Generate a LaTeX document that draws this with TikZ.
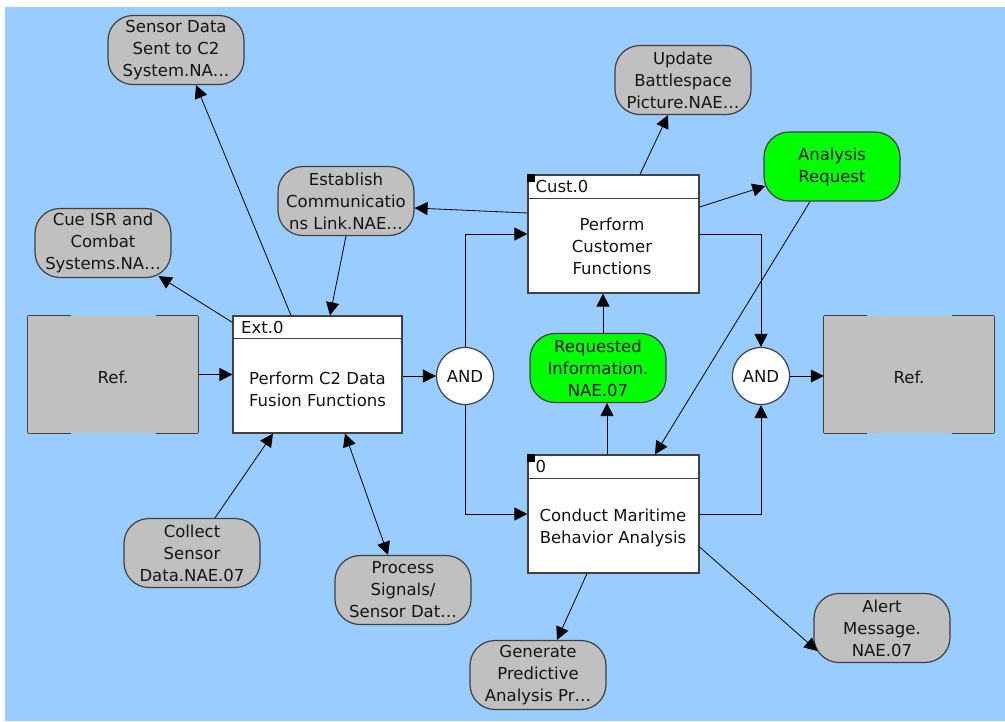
\documentclass[tikz,border=0pt]{standalone}
\usepackage{fontspec}
\setmainfont{DejaVu Sans}
\usetikzlibrary{arrows.meta,calc}
\definecolor{bgblue}{HTML}{99CCFF}
\definecolor{boxgray}{HTML}{C0C0C0}
\definecolor{edgegray}{HTML}{404040}
\definecolor{brightgreen}{HTML}{00FF00}
\definecolor{txt}{HTML}{141414}
\tikzset{
  every node/.style={font=\fontsize{16.5}{22}\selectfont, text=txt},
  pill/.style={draw=edgegray, line width=1.2pt, fill=boxgray, rounded corners=25pt,
    minimum width=136pt, minimum height=69pt, align=center, inner sep=0pt},
  greenpill/.style={pill, fill=brightgreen},
  funcbox/.style={draw=edgegray, line width=1.2pt, fill=white, minimum width=170pt,
    minimum height=118pt, inner sep=0pt},
  refbox/.style={fill=boxgray, minimum width=170pt, minimum height=117pt, inner sep=0pt},
  andnode/.style={circle, draw=edgegray, line width=1.2pt, fill=white, minimum size=57pt, inner sep=0pt},
  conn/.style={draw=black, line width=0.8pt, -{Triangle[length=13pt,width=13pt]}},
  biconn/.style={draw=black, line width=0.8pt, {Triangle[length=13pt,width=13pt]}-{Triangle[length=13pt,width=13pt]}},
  hdr/.style={anchor=west, inner sep=0pt},
  body/.style={align=center, inner sep=0pt},
  refedge/.style={draw=edgegray, line width=1.3pt},
}
\begin{document}
\begin{tikzpicture}[x=1pt,y=-1pt]
\useasboundingbox (0,0) rectangle (1005,721);
\fill[bgblue] (5,7) rectangle (1005,721);

% Ref boxes
\node[refbox] (refL) at (113,374.5) {};
\node[refbox] (refR) at (909,374.5) {};
\foreach \r in {refL,refR}{
  \draw[refedge] (\r.north west) -- (\r.south west);
  \draw[refedge] (\r.north east) -- (\r.south east);
  \draw[refedge] (\r.north west) -- ++(43,0);
  \draw[refedge] (\r.north east) -- ++(-42,0);
  \draw[refedge] (\r.south west) -- ++(43,0);
  \draw[refedge] (\r.south east) -- ++(-42,0);
}
\node[body] (refLt) at (113,377) {Ref.};
\node[body] (refRt) at (909,377) {Ref.};

% Function boxes
\node[funcbox, minimum width=169pt, minimum height=117pt] (ext) at (317.5,374.5) {};
\draw[draw=edgegray, line width=1.2pt] ([yshift=-23pt]ext.north west) -- ([yshift=-23pt]ext.north east);
\node[hdr] (extH) at ($(ext.north west)+(8.5,12)$) {Ext.0};
\node[body] (extT) at (317.5,389) {Perform C2 Data\\Fusion Functions};

\node[funcbox, minimum width=171pt] (cust) at (613.5,234) {};
\draw[draw=edgegray, line width=1.2pt] ([yshift=-24pt]cust.north west) -- ([yshift=-24pt]cust.north east);
\fill[black] (cust.north west) rectangle ++(8,8);
\node[hdr] (custH) at ($(cust.north west)+(8,12)$) {Cust.0};
\node[body] (custT) at (612,246) {Perform\\Customer\\Functions};

\node[funcbox, minimum width=171pt] (cond) at (613.5,514) {};
\draw[draw=edgegray, line width=1.2pt] ([yshift=-24pt]cond.north west) -- ([yshift=-24pt]cond.north east);
\fill[black] (cond.north west) rectangle ++(8,8);
\node[hdr] (condH) at ($(cond.north west)+(8,12)$) {0};
\node[body] (condT) at (613,528) {Conduct Maritime\\Behavior Analysis};

% AND nodes
\node[andnode] (andL) at (465,376) {AND};
\node[andnode] (andR) at (761,376) {AND};

% Pills
\node[pill] (sensor) at (176,50) {Sensor Data\\Sent to C2\\System.NA\dots};
\node[pill] (update) at (683,80) {Update\\Battlespace\\Picture.NAE\dots};
\node[greenpill] (analysis) at (832,166.5) {Analysis\\Request};
\node[pill] (establish) at (346,201) {Establish\\Communicatio\\ns Link.NAE\dots};
\node[pill] (cue) at (103,243) {Cue ISR and\\Combat\\Systems.NA\dots};
\node[greenpill] (requested) at (598,368) {Requested\\Information.\\NAE.07};
\node[pill] (collect) at (192,553) {Collect\\Sensor\\Data.NAE.07};
\node[pill] (process) at (403,590) {Process\\Signals/\\Sensor Dat\dots};
\node[pill] (generate) at (538,675) {Generate\\Predictive\\Analysis Pr\dots};
\node[pill] (alert) at (882,628) {Alert\\Message.\\NAE.07};

% Connectors
\draw[conn] ([xshift=-26.5pt]ext.north) -- ([xshift=20pt]sensor.south);
\draw[conn] ([yshift=-7pt]ext.north west) -- ([xshift=-13pt,yshift=2pt]cue.south east);
\draw[conn] (establish.south) -- ([xshift=12.5pt]ext.north);
\draw[conn] (refL.east |- ext.west) -- (ext.west);
\draw[conn] (ext.east |- andL.west) -- (andL.west);
\draw[conn] ([xshift=23pt]collect.north) -- ([xshift=-44.5pt]ext.south);
\draw[biconn] ([xshift=27.5pt]ext.south) -- ([xshift=-15pt]process.north);
\draw[conn] (andL.north) |- (cust.west);
\draw[conn] (andL.south) |- (cond.west);
\draw[conn] ([yshift=21pt]cust.west) -- ([yshift=-7pt]establish.east);
\draw[conn] ([xshift=26.5pt]cust.north) -- ([xshift=-15pt]update.south);
\draw[conn] ([yshift=27pt]cust.east) -- ([xshift=2pt,yshift=-19.5pt]analysis.west);
\draw[conn] (cust.east) -| (andR.north);
\draw[conn] ([xshift=5pt]requested.north) -- ([xshift=-10.5pt]cust.south);
\draw[conn] ([xshift=-6.5pt]cond.north) -- ([xshift=9pt]requested.south);
\draw[conn] ([xshift=-22pt]analysis.south) -- ([xshift=41.5pt]cond.north);
\draw[conn] (cond.east) -| (andR.south);
\draw[conn] (andR.east) -- (andR.east -| refR.west);
\draw[conn] ([xshift=-26.5pt]cond.south) -- ([xshift=19pt]generate.north);
\draw[conn] ([yshift=-33pt]cond.east) -- ([xshift=4pt,yshift=-23pt]alert.west);
\end{tikzpicture}
\end{document}
